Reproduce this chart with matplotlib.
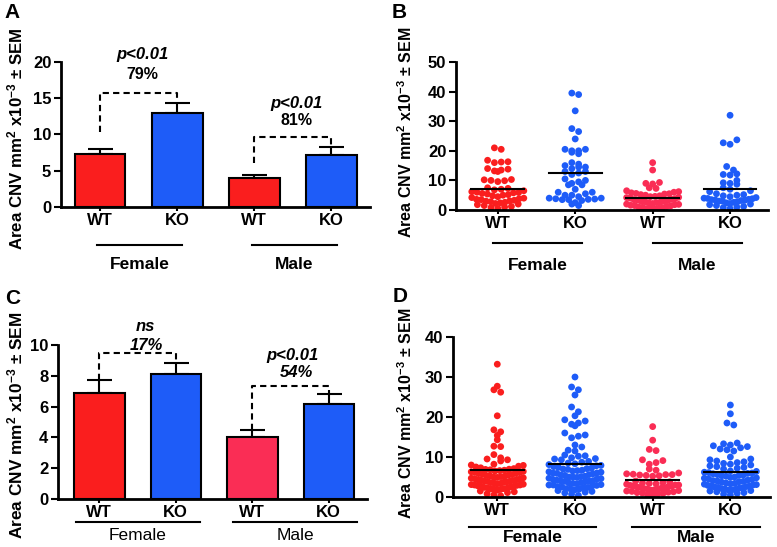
import numpy as np
import matplotlib
matplotlib.use('Agg')
import matplotlib.pyplot as plt
import matplotlib.transforms as mtransforms

plt.rcParams['font.family'] = ['Liberation Sans', 'DejaVu Sans']
plt.rcParams['mathtext.default'] = 'regular'

genotypes = ['WT', 'KO', 'WT', 'KO']
sexes = ['Female', 'Male']
ylab = 'Area CNV mm$^2$ x10$^{-3}$ ± SEM'

# panel A: bar means and SEM
a_mean = [7.3, 13.0, 4.0, 7.2]
a_sem = [0.7, 1.4, 0.4, 1.1]
# panel C
c_mean = [6.9, 8.1, 4.05, 6.2]
c_sem = [0.8, 0.75, 0.42, 0.6]

# panel B: individual eyes
b_f_wt = [21.0, 20.5, 16.8, 16.3, 16.2, 16.0, 14.0, 13.8, 13.5, 13.2, 13.0, 10.3, 10.2,
          10.0, 9.9, 9.6, 7.5, 7.3, 7.0, 6.8, 6.5, 6.2, 6.0, 5.9, 5.8, 5.6, 5.4, 5.2,
          5.0, 4.8, 4.5, 4.2, 4.0, 3.8, 3.6, 3.5, 3.3, 3.1, 3.0, 2.8, 2.6, 2.4, 2.2,
          2.0, 1.8, 1.5, 1.2, 1.0, 0.8, 0.5]
b_f_ko = [39.5, 39.0, 33.5, 27.5, 26.5, 24.0, 20.5, 20.5, 20.0, 20.0, 19.5, 19.0, 16.0,
          15.5, 15.0, 14.5, 14.5, 14.0, 13.0, 13.0, 12.5, 12.0, 10.5, 10.0, 9.5, 9.0,
          8.5, 8.5, 7.0, 6.0, 6.0, 5.5, 5.0, 5.0, 4.5, 4.0, 4.0, 3.8, 3.7, 3.6, 3.5,
          3.5, 3.2, 2.5, 2.0, 1.5]
b_m_wt = [16.0, 13.5, 9.3, 9.0, 8.8, 7.5, 7.3, 6.5, 6.2, 6.0, 5.8, 5.6, 5.5, 5.4, 5.2,
          5.0, 4.8, 4.6, 4.5, 4.3, 4.2, 4.0, 3.8, 3.6, 3.5, 3.3, 3.2, 3.0, 2.9, 2.8,
          2.6, 2.5, 2.4, 2.2, 2.0, 1.9, 1.8, 1.6, 1.5, 1.4, 1.2, 1.0, 0.9, 0.8, 0.6,
          0.5, 0.4, 0.3]
b_m_ko = [32.0, 23.7, 22.7, 22.2, 14.7, 13.5, 12.2, 12.0, 11.8, 10.0, 9.2, 9.0, 8.7,
          7.5, 7.0, 6.5, 6.2, 5.5, 5.2, 5.0, 4.8, 4.5, 4.2, 4.0, 3.9, 3.8, 3.6, 3.5,
          3.4, 3.3, 3.2, 3.0, 3.0, 2.8, 2.6, 2.4, 2.2, 2.0, 1.8, 1.5, 1.2, 1.0, 0.8, 0.5]

# panel D
d_f_wt = [33.2, 27.7, 26.8, 26.2, 20.3, 16.8, 16.3, 15.4, 14.3, 12.7, 12.6, 10.6, 9.8,
          9.5, 9.3, 9.0, 8.2, 8.0, 7.9, 7.7, 7.5, 7.3, 7.1, 6.95, 6.9, 6.8, 6.7, 6.6,
          6.5, 6.4, 6.3, 6.2, 6.1, 5.95, 5.85, 5.7, 5.6, 5.5, 5.4, 5.3, 5.2, 5.1, 5.0,
          4.9, 4.8, 4.7, 4.6, 4.5, 4.4, 4.3, 4.2, 4.1, 4.0, 4.0, 3.9, 3.8, 3.7, 3.6,
          3.5, 3.4, 3.3, 3.2, 3.1, 3.0, 3.0, 2.9, 2.8, 2.7, 2.6, 2.5, 2.4, 2.3, 2.2,
          2.1, 2.0, 2.0, 1.9, 1.7, 1.5, 1.3, 1.1, 0.8, 0.5, 0.3]
d_f_ko = [30.0, 27.5, 26.8, 25.5, 22.5, 21.3, 20.3, 19.3, 19.0, 18.5, 18.2, 17.8, 16.0,
          15.5, 15.2, 14.8, 13.0, 12.5, 11.7, 11.5, 10.5, 10.3, 10.2, 9.8, 9.6, 9.5,
          9.3, 8.9, 8.7, 8.5, 8.3, 8.1, 7.9, 7.8, 7.6, 7.4, 7.2, 7.1, 7.0, 6.9, 6.7,
          6.6, 6.5, 6.3, 6.2, 6.0, 6.0, 5.9, 5.8, 5.6, 5.5, 5.4, 5.2, 5.1, 5.0, 5.0,
          4.9, 4.7, 4.6, 4.5, 4.4, 4.2, 4.1, 4.0, 4.0, 3.9, 3.8, 3.6, 3.5, 3.4, 3.3,
          3.1, 3.0, 3.0, 2.9, 2.8, 2.6, 2.5, 2.4, 2.3, 2.1, 2.0, 2.0, 1.8, 1.6, 1.4,
          1.2, 1.0, 0.7, 0.4]
d_m_wt = [17.6, 14.2, 11.9, 11.6, 9.3, 9.1, 8.6, 8.2, 7.0, 6.7, 6.0, 5.8, 5.7, 5.6, 5.6,
          5.5, 5.4, 5.3, 5.2, 4.0, 3.8, 3.6, 3.5, 3.4, 3.3, 3.2, 3.0, 3.0, 2.9, 2.8,
          2.7, 2.6, 2.5, 2.4, 2.3, 2.2, 2.1, 2.0, 1.9, 1.8, 1.7, 1.6, 1.5, 1.4, 1.3,
          1.2, 1.1, 1.0, 0.9, 0.8, 0.6, 0.4]
d_m_ko = [23.0, 20.8, 18.5, 18.0, 13.5, 13.3, 13.0, 12.8, 12.6, 12.3, 12.0, 11.8, 11.5,
          10.0, 9.5, 9.3, 9.0, 8.8, 8.6, 8.4, 8.2, 8.0, 7.8, 7.6, 7.4, 7.2, 7.0, 6.5,
          6.4, 6.2, 6.1, 6.0, 5.9, 5.8, 5.6, 5.5, 5.4, 5.3, 5.2, 5.0, 4.9, 4.8, 4.7,
          4.5, 4.4, 4.2, 4.1, 4.0, 3.9, 3.8, 3.7, 3.5, 3.4, 3.3, 3.2, 3.1, 3.0, 2.9,
          2.8, 2.7, 2.6, 2.5, 2.4, 2.3, 2.2, 2.1, 2.0, 1.9, 1.8, 1.7, 1.6, 1.5, 1.3,
          1.1, 0.9, 0.7, 0.5]

RED = '#fa1e1e'
PINK = '#fa2d55'
BLUE = '#1e5cf8'

W, H = 777, 547
fig = plt.figure(figsize=(7.77, 5.47), dpi=100)


def make_ax(x0, x1, ytop, ybot):
    return fig.add_axes([x0 / W, 1 - ybot / H, (x1 - x0) / W, (ybot - ytop) / H])


def style(ax, ymax, step, xlim):
    ax.set_xlim(*xlim)
    ax.set_ylim(0, ymax)
    ax.set_yticks(np.arange(0, ymax + 0.01, step))
    for s in ['top', 'right']:
        ax.spines[s].set_visible(False)
    for s in ['left', 'bottom']:
        ax.spines[s].set_linewidth(2)
    ax.tick_params(axis='y', length=5, width=1.5, labelsize=12, pad=2)
    ax.tick_params(axis='x', length=3, width=1.5, labelsize=12, pad=1)
    ax.set_xticks(range(4))
    ax.set_xticklabels(genotypes, fontweight='bold')
    for t in ax.get_yticklabels():
        t.set_fontweight('bold')


def groups(ax, line_y, lab_y, spans, weight='bold'):
    tr = mtransforms.blended_transform_factory(ax.transData, ax.transAxes)
    for (a, b), name in zip(spans, sexes):
        ax.plot([a, b], [line_y, line_y], color='k', lw=1.5, transform=tr, clip_on=False)
        ax.text((a + b) / 2, lab_y, name, transform=tr, ha='center', va='center',
                fontsize=12.5, fontweight=weight)


def bracket(ax, x1, x2, y1, ytop, y2):
    ax.plot([x1, x1, x2, x2], [y1, ytop, ytop, y2], color='k', lw=1.5,
            ls=(0, (3, 2)), zorder=1)


def rows(vals, ppu, row_px=6.5, gap=6.8, maxw=52):
    # Prism-like scatter: bin into rows, lowest value in the middle of each row
    vals = np.asarray(vals)
    key = np.floor(vals * ppu / row_px)
    xs = np.zeros(len(vals))
    for k in np.unique(key):
        idx = np.where(key == k)[0]
        idx = idx[np.argsort(vals[idx])]
        n = len(idx)
        s = gap if n < 2 else min(gap, maxw / (n - 1))
        slots = np.arange(n) * s - (n - 1) * s / 2
        order = np.argsort(np.abs(slots) + 1e-3 * np.arange(n) * ((-1) ** np.arange(n)))
        xs[idx] = slots[order]
    return xs


def bars(ax, means, sems, colors):
    x = np.arange(4)
    ax.bar(x, means, width=0.66, color=colors, edgecolor='k', linewidth=1.5, zorder=2)
    ax.errorbar(x, means, yerr=[np.zeros(4), sems], fmt='none', ecolor='k',
                elinewidth=1.5, capsize=9, capthick=1.5, zorder=1)


def dots(ax, sets, colors, px_y, px_x):
    for i, (vals, col) in enumerate(zip(sets, colors)):
        off = rows(vals, px_y) / px_x
        ax.scatter(i + off, vals, s=24, color=col, edgecolors='none', zorder=2)
        m = np.mean(vals)
        ax.plot([i - 0.34, i + 0.34], [m, m], color='k', lw=1.5, zorder=3)


def ylabel(ax, xfrac, yfrac, size):
    ax.text(xfrac, yfrac, ylab, transform=ax.transAxes, rotation=90, ha='center',
            va='center', fontsize=size, fontweight='bold')


# ---- A ----
axA = make_ax(61, 370, 62, 207)
style(axA, 20, 5, (-0.506, 3.5))
bars(axA, a_mean, a_sem, [RED, BLUE, RED, BLUE])
bracket(axA, 0, 1, 10.3, 15.7, 14.4)
bracket(axA, 2, 3, 6.1, 9.7, 8.3)
axA.text(0.55, 21.1, 'p<0.01', ha='center', va='center', fontsize=12,
         fontweight='bold', style='italic', clip_on=False)
axA.text(0.55, 18.3, '79%', ha='center', va='center', fontsize=11.5, fontweight='bold')
axA.text(2.55, 14.3, 'p<0.01', ha='center', va='center', fontsize=12,
         fontweight='bold', style='italic')
axA.text(2.55, 11.9, '81%', ha='center', va='center', fontsize=11.5, fontweight='bold')
groups(axA, -0.262, -0.40, [(-0.04, 1.06), (1.97, 3.07)])
ylabel(axA, -0.149, 0.47, 12.2)

# ---- B ----
axB = make_ax(456, 768, 62, 210)
style(axB, 50, 10, (-0.54, 3.49))
dots(axB, [b_f_wt, b_f_ko, b_m_wt, b_m_ko], [RED, BLUE, PINK, BLUE], 148 / 50, 77.4)
groups(axB, -0.223, -0.372, [(-0.06, 1.09), (2.0, 3.15)])
ylabel(axB, -0.160, 0.527, 11.5)

# ---- C ----
axC = make_ax(58, 367, 345, 499)
style(axC, 10, 2, (-0.54, 3.5))
bars(axC, c_mean, c_sem, [RED, BLUE, PINK, BLUE])
bracket(axC, 0, 1, 7.75, 9.5, 8.85)
bracket(axC, 2, 3, 4.5, 7.36, 6.8)
axC.text(0.6, 11.2, 'ns', ha='center', va='center', fontsize=12,
         fontweight='bold', style='italic', clip_on=False)
axC.text(0.62, 10.0, '17%', ha='center', va='center', fontsize=12,
         fontweight='bold', style='italic', clip_on=False)
axC.text(2.53, 9.35, 'p<0.01', ha='center', va='center', fontsize=12,
         fontweight='bold', style='italic')
axC.text(2.58, 8.2, '54%', ha='center', va='center', fontsize=12,
         fontweight='bold', style='italic')
groups(axC, -0.149, -0.234, [(-0.31, 1.32), (1.75, 3.37)], weight='normal')
ylabel(axC, -0.139, 0.48, 12.4)

# ---- D ----
axD = make_ax(453, 770, 337, 497)
style(axD, 40, 10, (-0.57, 3.51))
dots(axD, [d_f_wt, d_f_ko, d_m_wt, d_m_ko], [RED, BLUE, PINK, BLUE], 160 / 40, 77.7)
groups(axD, -0.1875, -0.256, [(-0.36, 1.27), (1.74, 3.38)])
ylabel(axD, -0.148, 0.525, 11.5)

for lab, (px, py) in zip('ABCD', [(12, 13), (399, 12), (13, 298), (400, 297)]):
    fig.text(px / W, 1 - py / H, lab, ha='center', va='center', fontsize=15,
             fontweight='bold')

fig.savefig('out.png', dpi=100)
